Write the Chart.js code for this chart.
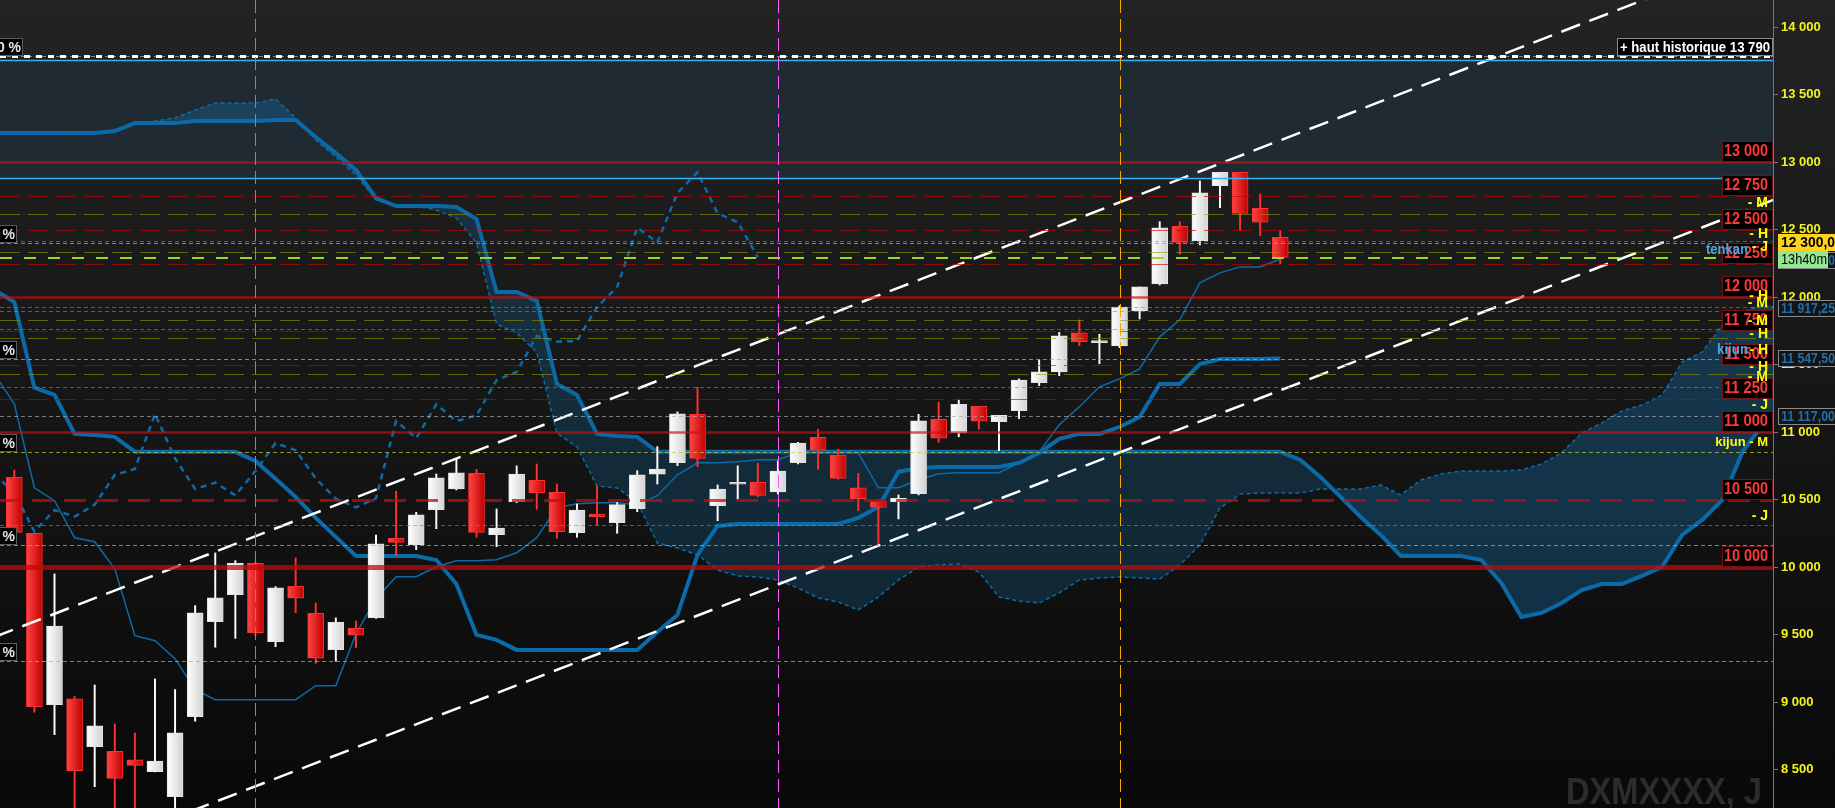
<!DOCTYPE html>
<html>
<head>
<meta charset="utf-8">
<script src="https://cdn.jsdelivr.net/npm/chart.js@4.4.1/dist/chart.umd.min.js"></script>
<style>
  html, body { margin: 0; padding: 0; background: #111; overflow: hidden; }
  #wrap { width: 1835px; height: 808px; position: relative; }
</style>
</head>
<body>
<div id="wrap"><canvas id="chart"></canvas></div>
<script>
// daily candles, left to right (index 0..63)
const opens  = [10667,10252,8983,9025,8671,8637,8573,8486,8301,8894,9597,9797,10030,9449,9859,9659,9390,9548,9627,10215,10168,10427,10580,10696,10242,10486,10645,10556,10256,10395,10331,10434,10689,10775,11133,10457,10615,10630,10558,10775,10963,10832,10588,10491,10486,10545,11096,10997,11193,11079,11160,11368,11447,11736,11664,11639,11899,12099,12526,12420,12827,12926,12659,12444];
const highs  = [10721,10252,9951,9045,9128,8840,8773,9173,9094,9716,10106,10049,10040,9857,10069,9736,9625,9602,10239,10563,10407,10691,10802,10726,10432,10751,10765,10617,10469,10602,10479,10716,10894,11151,11333,10610,10751,10770,10787,10926,11022,10874,10696,10504,10536,11133,11222,11239,11193,11126,11395,11536,11741,11832,11726,11938,12077,12560,12560,12862,12926,12926,12765,12493];
const lows   = [10259,8926,8760,8150,8375,8150,8150,8484,8150,8860,9408,9474,9494,9412,9664,9289,9304,9405,9622,10086,10131,10286,10573,10222,10153,10479,10430,10215,10222,10313,10252,10412,10617,10753,10745,10345,10506,10523,10543,10765,10726,10652,10419,10165,10358,10536,10926,10967,11022,10864,11101,11346,11419,11641,11508,11627,11839,12091,12319,12388,12664,12494,12456,12247];
const closes = [10259,8968,9565,8494,8825,8437,8533,8565,8773,9662,9773,10030,9516,9847,9771,9326,9593,9497,10173,10185,10388,10662,10699,10259,10291,10691,10553,10264,10424,10375,10464,10684,10728,11136,10807,10580,10627,10533,10713,10920,10867,10659,10508,10444,10511,11084,10956,11207,11082,11126,11387,11447,11714,11671,11676,11928,12077,12515,12407,12773,12926,12622,12556,12296];

// ichimoku lines, starting at index -1
const tenkan = [11433,11211,10589,10493,10219,10189,9989,9493,9456,9323,9093,9019,9019,9019,9019,9019,9123,9123,9508,9767,9930,9930,10004,10049,10049,10056,10108,10219,10441,10471,10478,10478,10463,10530,10685,10774,10774,10781,10796,10796,10848,10848,10848,10848,10589,10589,10648,10692,10700,10700,10700,10774,10855,11055,11189,11337,11396,11470,11707,11833,12107,12181,12225,12225,12284];
const kijun = [12054,11965,11330,11277,10988,10980,10966,10855,10855,10855,10855,10855,10855,10788,10655,10522,10366,10225,10084,10084,10084,10084,10054,9876,9499,9462,9388,9388,9388,9388,9388,9388,9388,9521,9647,10092,10306,10321,10321,10321,10321,10321,10321,10366,10447,10707,10736,10743,10743,10743,10743,10773,10847,10951,10988,10988,11039,11113,11358,11358,11506,11543,11543,11543,11547];
// cloud spans, index -1 to 89 (26 bars ahead)
const spanA = [13216,13216,13216,13216,13216,13216,13231,13290,13305,13328,13387,13439,13439,13439,13468,13328,13165,13039,12906,12720,12676,12676,12646,12587,12402,11802,11735,11594,10994,10891,10602,10587,10484,10180,10143,10092,9980,9936,9928,9906,9847,9773,9743,9684,9780,9906,10002,10017,10025,9965,9780,9750,9736,9810,9906,9921,9928,9921,9913,10017,10165,10439,10543,10550,10550,10550,10580,10580,10580,10610,10536,10647,10691,10713,10713,10713,10721,10765,10847,10995,11069,11158,11202,11276,11521,11595,11795,11891,11944,11917,11917];
const spanB = [13216,13216,13216,13216,13216,13216,13231,13290,13290,13290,13305,13305,13305,13305,13313,13313,13187,13068,12943,12735,12676,12676,12676,12669,12580,12039,12039,11973,11358,11277,10988,10973,10966,10855,10855,10855,10855,10855,10855,10855,10855,10855,10855,10855,10855,10855,10855,10855,10855,10855,10855,10855,10855,10855,10855,10855,10855,10855,10855,10855,10855,10855,10855,10855,10855,10795,10669,10522,10373,10240,10084,10084,10084,10084,10054,9884,9632,9662,9736,9832,9876,9876,9936,10002,10240,10351,10499,10855,11055,11117,11117];

// channel lines: [bar index, price]
const channelUpper = [[-1, 9483], [88, 14600]];
const channelLower = [[-1, 7630], [88, 12748]];

// price axis
const yTicks = [8500, 9000, 9500, 10000, 10500, 11000, 11500, 12000, 12500, 13000, 13500, 14000];

// horizontal levels
const levelRed = [13000, 12000, 11000];
const levelRedHeavy = [10000];
const levelRedDash = [10500];
const levelRedThin = [12750, 12500, 12250, 11750, 11500, 11250];
const levelOlive = [12615, 12333, 11830, 11696, 11430];
const levelOliveDot = [12415, 11926, 11896, 11765, 11333, 10311];
const fibLevels = [13790, 12402, 11545, 10852, 10163, 9304];
const fibLabels = ['0,0 %', '23,6 %', '38,2 %', '50,0 %', '61,8 %', '76,4 %'];
const levelGrayExtra = [11117];
const athLevel = 13790;
const zoneLevels = [13756, 12884];
const lastPrice = 12293;
const boxLevels = [13000, 12750, 12500, 12250, 12000, 11750, 11500, 11250, 11000, 10500, 10000];
const markerBars = [12, 38, 55];
const markerColors = ['#5a8ee8', '#ff5cff', '#f2a900'];
const tagTexts = ['- M', '- H', '- J', '- H', '- M', '- M', '- H', '- H', '- H', '- M', '- J', 'kijun - M', '- J'];
const tagLevels = [12699, 12469, 12373, 12010, 11958, 11825, 11728, 11610, 11484, 11410, 11203, 10922, 10381];

const fmt = v => String(Math.round(v)).replace(/\B(?=(\d{3})+(?!\d))/g, ' ');
const series = (arr, start) => arr.map((v, k) => ({ x: k + start, y: v }));
const isUp = i => closes[i] >= opens[i];

function candleFill(ctx) {
    const i = ctx.dataIndex;
    const chart = ctx.chart;
    const fallback = (i !== undefined && !isUp(i)) ? '#e01818' : '#eeeeee';
    if (i === undefined || !chart.scales || !chart.scales.x) return fallback;
    const x = chart.scales.x.getPixelForValue(i);
    if (!Number.isFinite(x)) return fallback;
    const g = chart.ctx.createLinearGradient(x - 8, 0, x + 8, 0);
    if (isUp(i)) {
        g.addColorStop(0, '#ffffff');
        g.addColorStop(1, '#d2d2d2');
    } else {
        g.addColorStop(0, '#ff4646');
        g.addColorStop(1, '#c20000');
    }
    return g;
}

function hline(c, v, color, width, dash, x0, x1) {
    const a = c.chartArea;
    const y = Math.round(c.scales.y.getPixelForValue(v)) + (width % 2 ? 0.5 : 0);
    const ctx = c.ctx;
    ctx.save();
    ctx.beginPath();
    ctx.strokeStyle = color;
    ctx.lineWidth = width;
    ctx.setLineDash(dash || []);
    ctx.moveTo(x0 === undefined ? a.left : x0, y);
    ctx.lineTo(x1 === undefined ? a.right : x1, y);
    ctx.stroke();
    ctx.restore();
}

const backdrop = {
    id: 'backdrop',
    beforeDraw(c) {
        const ctx = c.ctx;
        const g = ctx.createLinearGradient(0, 0, 0, c.height);
        g.addColorStop(0, '#232323');
        g.addColorStop(1, '#090909');
        ctx.save();
        ctx.fillStyle = g;
        ctx.fillRect(0, 0, c.width, c.height);
        ctx.restore();
    },
    beforeDatasetsDraw(c) {
        const ctx = c.ctx, a = c.chartArea, y = c.scales.y;
        const t = y.getPixelForValue(zoneLevels[0]), b = y.getPixelForValue(zoneLevels[1]);
        ctx.save();
        ctx.fillStyle = '#1f2a32';
        ctx.fillRect(a.left, t, a.right - a.left, b - t);
        // watermark
        ctx.fillStyle = '#2c2c2c';
        ctx.font = 'bold 36px "Liberation Sans", Arial, sans-serif';
        ctx.textAlign = 'right';
        ctx.textBaseline = 'alphabetic';
        ctx.fillText('DXMXXXX, J', 1762, 804, 196);
        ctx.restore();
    },
    afterDatasetsDraw(c) {
        const a = c.chartArea;
        levelOlive.forEach(v => hline(c, v, 'rgba(150,150,0,0.6)', 1, [20, 8]));
        levelOliveDot.forEach(v => hline(c, v, 'rgba(150,150,40,0.6)', 1, [4, 3]));
        levelRedThin.forEach(v => hline(c, v, 'rgba(200,0,0,0.65)', 1, [20, 8]));
        fibLevels.forEach((v, k) => hline(c, v, k === 3 ? 'rgba(190,190,60,0.75)' : 'rgba(170,170,170,0.75)', 1, [4, 3]));
        levelGrayExtra.forEach(v => hline(c, v, 'rgba(170,170,170,0.7)', 1, [4, 3]));
        levelRed.forEach(v => hline(c, v, 'rgba(200,16,16,0.68)', 2.5));
        levelRedHeavy.forEach(v => hline(c, v, 'rgba(190,10,10,0.75)', 5));
        levelRedDash.forEach(v => hline(c, v, 'rgba(190,15,15,0.75)', 3, [22, 10]));
        hline(c, zoneLevels[0], '#3ab0f0', 1.5);
        hline(c, zoneLevels[1], '#3ab0f0', 1.5, null, a.left, 1722);
        hline(c, athLevel, '#ffffff', 3, [6, 6]);
        hline(c, lastPrice, '#9ed62a', 2, [12, 12]);
        // vertical markers
        const ctx = c.ctx;
        markerBars.forEach((i, k) => {
            const x = Math.round(c.scales.x.getPixelForValue(i)) + 0.5;
            ctx.save();
            ctx.beginPath();
            ctx.strokeStyle = markerColors[k];
            ctx.lineWidth = 1;
            ctx.setLineDash([13, 6]);
            ctx.moveTo(x, a.top);
            ctx.lineTo(x, a.bottom);
            ctx.stroke();
            ctx.restore();
        });
    },
    afterDraw(c) {
        const ctx = c.ctx;
        const y = v => c.scales.y.getPixelForValue(v);
        const font = (w, s) => w + ' ' + s + 'px "Liberation Sans", Arial, sans-serif';
        ctx.save();
        ctx.textBaseline = 'middle';

        // fibonacci tags cut at the left edge
        fibLevels.forEach((v, k) => {
            const yy = Math.round(y(v));
            const w = k === 0 ? 23 : 17;
            ctx.fillStyle = '#000';
            ctx.fillRect(-2, yy - 18, w + 2, 18);
            ctx.strokeStyle = '#5c5c5c';
            ctx.lineWidth = 1;
            ctx.strokeRect(-1.5, yy - 17.5, w + 1, 17);
            ctx.fillStyle = '#e6e6e6';
            ctx.font = font('bold', 14);
            ctx.textAlign = 'right';
            ctx.fillText(fibLabels[k], w - 2, yy - 8);
        });

        // all-time high tag
        const ath = Math.round(y(athLevel));
        ctx.fillStyle = '#000';
        ctx.fillRect(1617, ath - 18, 156, 18);
        ctx.strokeStyle = '#8a8a8a';
        ctx.strokeRect(1617.5, ath - 17.5, 155, 17);
        ctx.fillStyle = '#ffffff';
        ctx.font = font('bold', 15);
        ctx.textAlign = 'left';
        ctx.fillText('+ haut historique 13 790', 1620, ath - 8, 150);

        // round-number boxes
        boxLevels.forEach(v => {
            const yy = Math.round(y(v));
            ctx.fillStyle = '#000';
            ctx.fillRect(1722, yy - 21, 51, 21);
            ctx.strokeStyle = '#6e1414';
            ctx.strokeRect(1722.5, yy - 20.5, 50, 20);
            ctx.fillStyle = '#ff3838';
            ctx.font = font('bold', 16);
            ctx.textAlign = 'right';
            ctx.fillText(fmt(v), 1768, yy - 10, 44);
        });

        // blue line names
        ctx.font = font('bold', 14);
        ctx.textAlign = 'right';
        ctx.fillStyle = '#45a6e6';
        ctx.fillText('tenkan', 1748, y(12350), 42);
        ctx.fillText('kijun', 1748, y(11610), 31);

        // pivot tags
        ctx.fillStyle = '#ffff00';
        tagTexts.forEach((t, k) => {
            ctx.font = font('bold', t.length > 3 ? 13 : 14);
            ctx.fillText(t, 1768, y(tagLevels[k]));
        });

        // price tags on the axis
        const tag = (text, cy, bg, fg, border, w, weight) => {
            const top = Math.round(cy) - 8;
            ctx.fillStyle = bg;
            ctx.fillRect(1778, top, w, 17);
            if (border) {
                ctx.strokeStyle = border;
                ctx.strokeRect(1778.5, top + 0.5, w - 1, 16);
            }
            ctx.fillStyle = fg;
            ctx.font = font(weight || 'bold', 14);
            ctx.textAlign = 'left';
            ctx.fillText(text, 1781, top + 9, w - 4);
        };
        tag('12 287,00', y(12287) + 1, '#141414', '#1f6fab', '#8a8a8a', 58);
        tag('12 300,0', y(12287) - 17, '#ffd21c', '#000', null, 58);
        tag('13h40m', y(12287), '#92e892', '#000', null, 50, 'normal');
        tag('11 917,25', y(11917), '#141414', '#1f6fab', '#8a8a8a', 58);
        tag('11 547,50', y(11547), '#141414', '#1f6fab', '#8a8a8a', 58);
        tag('11 117,00', y(11117), '#141414', '#1f6fab', '#8a8a8a', 58);
        ctx.restore();
    }
};

const ctx = document.getElementById('chart').getContext('2d');
const idx = closes.map((v, i) => i);

new Chart(ctx, {
    type: 'bar',
    data: {
        datasets: [
            {
                type: 'line', label: 'canal haut', order: 0,
                data: channelUpper.map(p => ({ x: p[0], y: p[1] })),
                borderColor: '#ffffff', borderWidth: 2.5, borderDash: [20, 10], pointRadius: 0
            },
            {
                type: 'line', label: 'canal bas', order: 0,
                data: channelLower.map(p => ({ x: p[0], y: p[1] })),
                borderColor: '#ffffff', borderWidth: 2.5, borderDash: [20, 10], pointRadius: 0
            },
            {
                label: 'corps', order: 1, grouped: false,
                data: idx.map(i => ({ x: i, y: [opens[i], closes[i]] })),
                backgroundColor: candleFill,
                borderColor: idx.map(i => isUp(i) ? '#e4e4e4' : '#ff3030'),
                borderWidth: 1, borderSkipped: false, barThickness: 16, minBarLength: 2
            },
            {
                label: 'mèches', order: 2, grouped: false,
                data: idx.map(i => ({ x: i, y: [lows[i], highs[i]] })),
                backgroundColor: idx.map(i => isUp(i) ? '#ffffff' : '#ff3030'),
                borderWidth: 0, barThickness: 1.3
            },
            {
                type: 'line', label: 'tenkan', order: 3,
                data: series(tenkan, -1),
                borderColor: '#0e6aa6', borderWidth: 1.5, pointRadius: 0
            },
            {
                type: 'line', label: 'kijun', order: 3,
                data: series(kijun, -1),
                borderColor: '#0b6ba8', borderWidth: 4, pointRadius: 0
            },
            {
                type: 'line', label: 'chikou', order: 3,
                data: series(closes.slice(25), -1),
                borderColor: '#0e6aa6', borderWidth: 2.5, borderDash: [6, 5], pointRadius: 0
            },
            {
                type: 'line', label: 'SSA', order: 4,
                data: series(spanA, -1),
                borderColor: '#0e6aa6', borderWidth: 1.5, borderDash: [4, 3], pointRadius: 0,
                fill: { target: 8, above: 'rgba(22,105,160,0.38)', below: 'rgba(20,95,145,0.3)' }
            },
            {
                type: 'line', label: 'SSB', order: 4,
                data: series(spanB, -1),
                borderColor: '#0b6ba8', borderWidth: 4, pointRadius: 0
            }
        ]
    },
    options: {
        responsive: true,
        maintainAspectRatio: false,
        animation: false,
        layout: { padding: 0, autoPadding: false },
        plugins: {
            legend: { display: false },
            tooltip: { enabled: false }
        },
        scales: {
            x: {
                type: 'linear', display: false, offset: false,
                min: -0.712, max: 87.52
            },
            y: {
                position: 'right', min: 8217, max: 14202, beginAtZero: false,
                border: { color: '#777', width: 1 },
                grid: { drawOnChartArea: false, drawTicks: true, tickLength: 5, color: '#777' },
                ticks: {
                    padding: 3,
                    color: '#f4f41c',
                    font: { family: '"Liberation Sans", Arial, sans-serif', size: 13, weight: 'bold' },
                    callback: v => fmt(v)
                },
                afterBuildTicks(scale) {
                    scale.ticks = yTicks.map(v => ({ value: v }));
                },
                afterFit(scale) {
                    scale.width = 62;
                    scale.paddingTop = 0;
                    scale.paddingBottom = 0;
                }
            }
        }
    },
    plugins: [backdrop]
});
</script>
</body>
</html>
